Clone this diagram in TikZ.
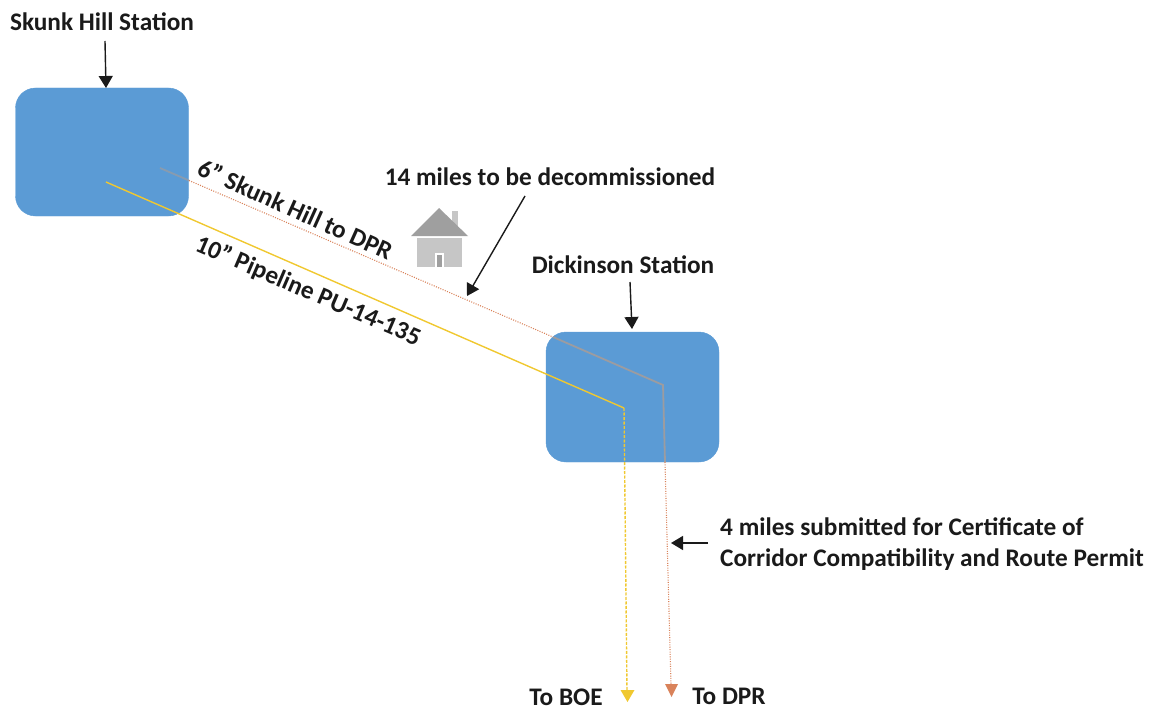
\documentclass[tikz,border=0pt]{standalone}
\usepackage{fontspec}
\setmainfont{Carlito}
\usetikzlibrary{arrows.meta}
\definecolor{boxblue}{HTML}{5B9BD5}
\definecolor{pipeyellow}{HTML}{F0C830}
\definecolor{pipeorange}{HTML}{D9825A}
\definecolor{pipegray}{HTML}{9C9CA0}
\definecolor{inkblack}{HTML}{1A1A1A}
\tikzset{
  station/.style={fill=boxblue,draw=boxblue,rounded corners=20pt,minimum width=173pt,minimum height=128pt,inner sep=0pt},
  lab/.style={font=\fontsize{25.3}{28}\selectfont\bfseries,text=inkblack,inner sep=0pt},
  pointer/.style={draw=inkblack,line width=1.4pt,-{Triangle[length=12pt,width=14pt]}},
  yellowsolid/.style={draw=pipeyellow,line width=1.4pt},
  yellowdash/.style={draw=pipeyellow,line width=1.4pt,dash pattern=on 3pt off 1.5pt},
  orangedot/.style={draw=pipeorange,line width=1.1pt,dash pattern=on 1pt off 1.4pt},
  grayline/.style={draw=pipegray,line width=1.8pt},
}
\begin{document}
\begin{tikzpicture}[x=1pt,y=-1pt]
\useasboundingbox (0,0) rectangle (1150,706);
\node[station] (skunk) at (102,152) {};
\node[station,minimum height=130pt] (dick) at (632.5,397) {};

% pipelines
\coordinate (yA) at (106,182);
\coordinate (yB) at (624,408);
\coordinate (yC) at (627,691);
\coordinate (yEnd) at (627.5,702);
\coordinate (gA) at (160,168);
\coordinate (gB) at (189,180.5);
\coordinate (gC) at (553,337);
\coordinate (gD) at (663,385);
\coordinate (gE) at (665,462);
\coordinate (gF) at (671,685);
\coordinate (gEnd) at (671.5,697);
\draw[yellowsolid] (yA) -- (yB);
\draw[yellowdash] (yB) -- (yC);
\fill[pipeyellow] (620.5,690) -- (634.5,690) -- (yEnd) -- cycle;
\draw[grayline,opacity=.7] (gA) -- (gB);
\draw[orangedot] (gB) -- (gC);
\draw[grayline] (gC) -- (gD) -- (gE);
\draw[orangedot] (gE) -- (gF);
\fill[pipeorange] (665,684) -- (678,684) -- (gEnd) -- cycle;

% house
\fill[gray!45!white] (452,211) rectangle (458,226);
\fill[gray!75!white] (439,208) -- (468,236) -- (411,236) -- cycle;
\fill[gray!45!white] (417,238) rectangle (462,267);
\fill[white] (435,253) rectangle (444,267);
\fill[gray!75!white] (437,255) rectangle (442,267);

% labels
\node[lab] (lskunk) at (102,22) {Skunk Hill Station};
\node[lab] (ldick) at (623,265) {Dickinson Station};
\node[lab] (lfourteen) at (550,177) {14 miles to be decommissioned};
\node[lab,align=left,anchor=west,font=\fontsize{25.3}{31}\selectfont\bfseries] (lfour) at (720,544.5) {4 miles submitted for Certificate of\\Corridor Compatibility and Route Permit};
\node[lab] (lboe) at (566,697) {To BOE};
\node[lab] (ldpr) at (729,696) {To DPR};
\node[lab,rotate=-24.3] (lsix) at (295.5,209) {6” Skunk Hill to DPR};
\node[lab,rotate=-23.3] (lten) at (308,291.5) {10” Pipeline PU-14-135};

% pointers
\coordinate (pA) at (105,41);
\coordinate (pB) at (106,88);
\coordinate (pC) at (630,282);
\coordinate (pD) at (632,329);
\coordinate (pE) at (525,196);
\coordinate (pF) at (467,296);
\coordinate (pG) at (708,543);
\coordinate (pH) at (671,543);
\draw[pointer] (pA) -- (pB);
\draw[pointer] (pC) -- (pD);
\draw[pointer] (pE) -- (pF);
\draw[pointer] (pG) -- (pH);
\end{tikzpicture}
\end{document}
